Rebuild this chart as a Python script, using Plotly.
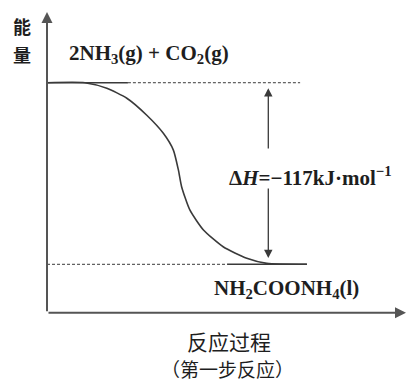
import plotly.graph_objects as go

# ---- data ----
dH = -117                      # kJ/mol
E_react = 117                  # relative energy of reactants
E_prod = E_react + dH          # 0
progress = [0, 10.6, 16.7, 22.3, 27.8, 32.5, 35.3, 36.7, 37.6, 39.9, 43.7, 49.2, 55.8, 61.4, 72.6]
energy = [117, 117, 113.4, 107.0, 96.2, 84.4, 73.6, 60.8, 50.0, 35.0, 22.1, 11.3, 3.9, 0.6, 0]
react_solid_end = 22.6
react_dash_end = 70.7
prod_dash_end = 50.3
prod_solid_end = 72.6
labels = {
    "ylab": ["能", "量"],
    "react": "2NH<sub>3</sub>(g) + CO<sub>2</sub>(g)",
    "prod": "NH<sub>2</sub>COONH<sub>4</sub>(l)",
    "dh": "Δ<i>H</i>=−117kJ·mol<sup>−1</sup>",
    "xlab1": "反应过程",
    "xlab2": "（第一步反应）",
}

W, H = 420, 382
PAD = 8   # page body margin of the browser
# pixel -> data helpers (layout only)
X0, XS = 47, 3.58
Y0, YS = 264.3, 1.552
def dx(px): return (px - X0) / XS
def dy(py): return (Y0 - py) / YS

LINE = "#3a3a3a"
TXT = "#1e1e1e"
SERIF = "Liberation Serif, Times New Roman, serif"
CJK = "Noto Sans CJK SC, sans-serif"

fig = go.Figure()
fig.add_trace(go.Scatter(x=progress, y=energy, mode="lines",
                         line=dict(color=LINE, width=1.6, shape="spline", smoothing=0.6),
                         hoverinfo="skip"))
fig.add_trace(go.Scatter(x=[react_solid_end, react_dash_end], y=[E_react, E_react], mode="lines",
                         line=dict(color=LINE, width=1, dash="3px,2px"), hoverinfo="skip"))
fig.add_trace(go.Scatter(x=[0, prod_dash_end], y=[E_prod, E_prod], mode="lines",
                         line=dict(color=LINE, width=1, dash="3px,2px"), hoverinfo="skip"))
fig.add_trace(go.Scatter(x=[prod_dash_end, prod_solid_end], y=[E_prod, E_prod], mode="lines",
                         line=dict(color=LINE, width=1.6), hoverinfo="skip"))
fig.add_trace(go.Scatter(x=[0, react_solid_end], y=[E_react, E_react], mode="lines",
                         line=dict(color=LINE, width=1.6), hoverinfo="skip"))

ann = []
axis_y = dy(312.7)
ann.append(dict(x=dx(406), y=axis_y, ax=0, ay=axis_y, xref="x", yref="y", axref="x", ayref="y",
                showarrow=True, arrowhead=2, arrowsize=1.1, arrowwidth=2, arrowcolor="#555", text=""))
ann.append(dict(x=0, y=dy(12), ax=0, ay=axis_y, xref="x", yref="y", axref="x", ayref="y",
                showarrow=True, arrowhead=2, arrowsize=1.1, arrowwidth=2, arrowcolor="#555", text=""))
xa = dx(268.3)
ann.append(dict(x=xa, y=E_react - 3.5, ax=xa, ay=dy(150), xref="x", yref="y", axref="x", ayref="y",
                showarrow=True, arrowhead=2, arrowsize=1.3, arrowwidth=1.3, arrowcolor=LINE, text=""))
ann.append(dict(x=xa, y=E_prod + 4, ax=xa, ay=dy(187), xref="x", yref="y", axref="x", ayref="y",
                showarrow=True, arrowhead=2, arrowsize=1.3, arrowwidth=1.3, arrowcolor=LINE, text=""))

def txt(t, px, py, size, font, anchor="center", color=TXT):
    ann.append(dict(x=dx(px), y=dy(py), xref="x", yref="y", text=t, showarrow=False,
                    xanchor=anchor, yanchor="middle",
                    font=dict(family=font, size=size, color=color)))

txt("<b>" + labels["ylab"][0] + "</b>", 22, 26, 18, CJK)
txt("<b>" + labels["ylab"][1] + "</b>", 22, 54, 18, CJK)
txt("<b>" + labels["react"] + "</b>", 67, 54, 21, SERIF, "left")
txt("<b>" + labels["dh"] + "</b>", 227, 176, 21, SERIF, "left")
txt("<b>" + labels["prod"] + "</b>", 212, 289, 21, SERIF, "left")
txt(labels["xlab1"], 229, 341, 21, CJK)
txt(labels["xlab2"], 227, 368, 19, CJK)

fig.update_layout(
    width=W - PAD, height=H - PAD, margin=dict(l=0, r=0, t=0, b=0),
    paper_bgcolor="white", plot_bgcolor="white", showlegend=False,
    xaxis=dict(range=[dx(PAD), dx(W)], visible=False, fixedrange=True),
    yaxis=dict(range=[dy(H), dy(PAD)], visible=False, fixedrange=True),
    annotations=ann,
)
fig.write_html("out.html", config={"displayModeBar": False})
